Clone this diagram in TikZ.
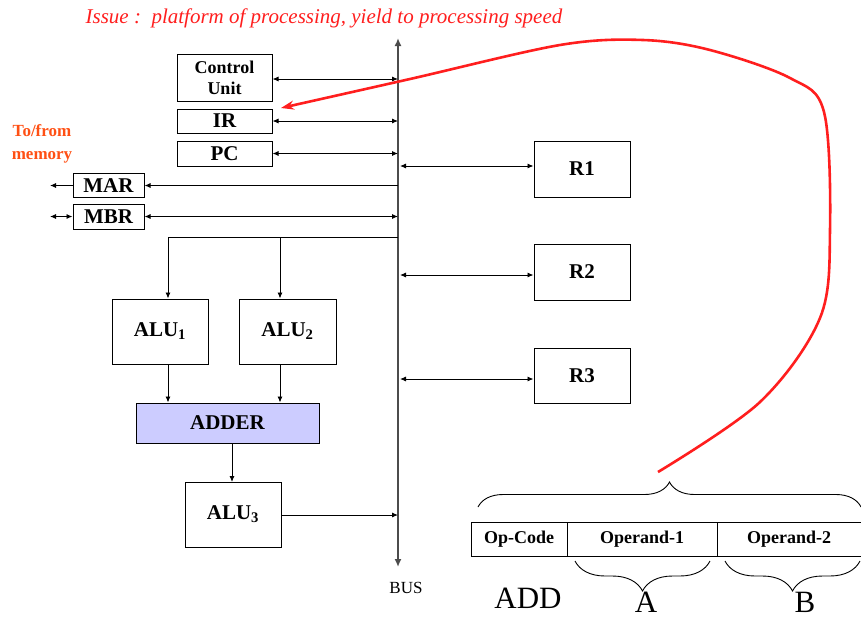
\documentclass[tikz,border=0pt]{standalone}
\usepackage{fontspec}
\setmainfont{Liberation Serif}
\usetikzlibrary{arrows.meta,decorations.pathreplacing,calc}
\definecolor{issuered}{RGB}{255,30,30}
\definecolor{memred}{RGB}{255,80,20}
\definecolor{adderfill}{RGB}{204,204,255}
\tikzset{
    reg/.style={draw, line width=1pt, inner sep=0pt, align=center,
        font=\bfseries\fontsize{21}{23}\selectfont},
    field/.style={draw, line width=1pt, inner sep=0pt, minimum height=34pt,
        font=\bfseries\fontsize{18}{20}\selectfont},
    big/.style={inner sep=0pt, anchor=base, font=\fontsize{31}{33}\selectfont},
    link/.style={-{Latex[length=6pt,width=5pt]}, line width=0.9pt},
    dlink/.style={{Latex[length=6pt,width=5pt]}-{Latex[length=6pt,width=5pt]}, line width=0.9pt},
    brace/.style={decorate, line width=0.9pt, decoration={brace, amplitude=#1}},
}
\begin{document}
\begin{tikzpicture}[x=1pt, y=-1pt]
        \useasboundingbox (0,0) rectangle (861,619);
        % title
        \node[issuered, font=\itshape\fontsize{21}{23}\selectfont] (issue) at (324,18)
            {Issue :\ \ platform of processing, yield to processing speed};
        % the bus
        \coordinate (busTop) at (398,38);
        \coordinate (busBot) at (398,567);
        \draw[line width=2.2pt, black!70, -{Latex[length=8pt,width=7pt]}] (398,300) -- (busTop);
        \draw[line width=2.2pt, black!70, -{Latex[length=8pt,width=7pt]}] (398,300) -- (busBot);
        \node[font=\fontsize{17}{19}\selectfont] (bus) at (406,588) {BUS};
        % registers on the left
        \node[reg, font=\bfseries\fontsize{18}{21}\selectfont, minimum width=95pt, minimum height=47pt]
            (cu) at (224.5,77.5) {Control\\Unit};
        \node[reg, minimum width=95pt, minimum height=24pt] (ir) at (224.5,121) {IR};
        \node[reg, minimum width=95pt, minimum height=25pt] (pc) at (224.5,153.5) {PC};
        \node[reg, minimum width=71pt, minimum height=24pt] (mar) at (108.5,185.5) {MAR};
        \node[reg, minimum width=71pt, minimum height=25pt] (mbr) at (108.5,216.5) {MBR};
        \node[memred, align=center, font=\bfseries\fontsize{17}{23}\selectfont] (mem) at (42,144)
            {To/from\\memory};
        \draw[dlink] (cu.east |- 0,79) -- (busTop |- 0,79);
        \draw[dlink] (ir.east) -- (ir.east -| busTop);
        \draw[dlink] (pc.east) -- (pc.east -| busTop);
        \draw[link] (mar.east -| busTop) -- (mar.east);
        \draw[dlink] (mbr.east) -- (mbr.east -| busTop);
        \coordinate (marOut) at (50,185.5);
        \coordinate (mbrOut) at (50,216.5);
        \draw[link] (mar.west) -- (marOut);
        \draw[dlink] (mbrOut) -- (mbr.west);
        % general registers
        \node[reg, minimum width=96pt, minimum height=56pt] (r1) at (582,169) {R1};
        \node[reg, minimum width=96pt, minimum height=56pt] (r2) at (582,272) {R2};
        \node[reg, minimum width=96pt, minimum height=55pt] (r3) at (582,375.5) {R3};
        \draw[dlink] (r1.west |- 0,166) -- (400,166);
        \draw[dlink] (r2.west |- 0,275) -- (400,275);
        \draw[dlink] (r3.west |- 0,379) -- (400,379);
        % ALUs and adder
        \node[reg, minimum width=96pt, minimum height=65pt] (alu1) at (160,331.5) {ALU\textsubscript{1}};
        \node[reg, minimum width=97pt, minimum height=65pt] (alu2) at (287.5,331.5) {ALU\textsubscript{2}};
        \node[reg, fill=adderfill, minimum width=183pt, minimum height=40pt] (adder) at (227.5,423) {ADDER};
        \node[reg, minimum width=96pt, minimum height=65pt] (alu3) at (233,514.5) {ALU\textsubscript{3}};
        \coordinate (tapA) at (168,237);
        \coordinate (tapB) at (280,237);
        \draw[line width=0.9pt] (busTop |- tapA) -- (tapA);
        \draw[link] (tapA) -- (tapA |- alu1.north);
        \draw[link] (tapB) -- (tapB |- alu2.north);
        \draw[link] (tapA |- alu1.south) -- (tapA |- adder.north);
        \draw[link] (tapB |- alu2.south) -- (tapB |- adder.north);
        \draw[link] (232,443) -- (232,482);
        \draw[link] (alu3.east |- 0,515) -- (busTop |- 0,515);
        % instruction format
        \node[field, minimum width=96pt] (opcode) at (519,539) {Op-Code};
        \node[field, minimum width=150pt] (opone) at (642,539) {Operand-1};
        \node[field, minimum width=144pt] (optwo) at (789,539) {Operand-2};
        \draw[brace=25pt] (478,507) -- (861,507);
        \draw[brace=30pt] (710,561) -- (575,561);
        \draw[brace=30pt] (860,561) -- (725,561);
        \node[big] (add) at (528,608) {ADD};
        \node[big] (opA) at (646,612) {A};
        \node[big] (opB) at (805,612) {B};
        % issue pointer
        \coordinate (fmtTop) at (658,472);
        \coordinate (irHit) at (281,108);
        \draw[issuered, line width=2.6pt, -{Stealth[length=13pt,width=9pt]}]
            plot[smooth, tension=0.55] coordinates {(fmtTop) (760,402) (820,318) (830,230)
            (824,112) (790,78) (710,50) (643,40) (560,45) (410,79) (irHit)};
\end{tikzpicture}
\end{document}
